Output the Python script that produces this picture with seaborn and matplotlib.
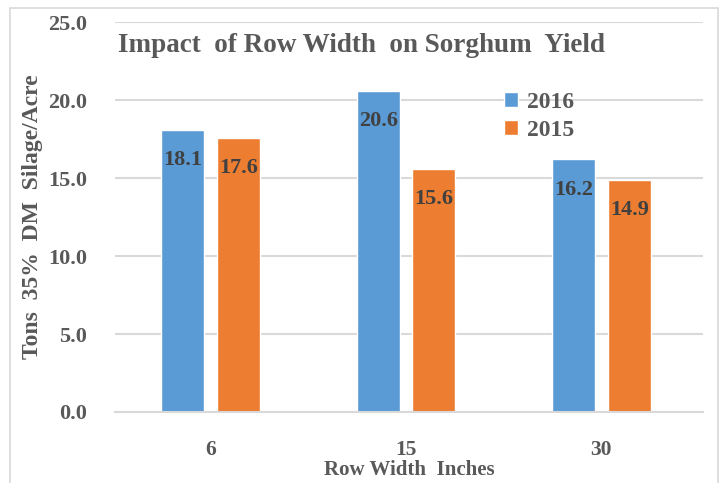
import matplotlib
matplotlib.use("Agg")
import matplotlib.pyplot as plt
import seaborn as sns
import pandas as pd
from matplotlib.patches import Rectangle

categories = ["6", "15", "30"]
years = ["2016", "2015"]
values_2016 = [18.1, 20.6, 16.2]
values_2015 = [17.6, 15.6, 14.9]
yticks = [0, 5, 10, 15, 20, 25]

df = pd.DataFrame({
    "width": categories * 2,
    "year": [years[0]] * 3 + [years[1]] * 3,
    "tons": values_2016 + values_2015,
})

sns.set_theme(style="white")
plt.rcParams["font.family"] = ["Liberation Serif", "DejaVu Serif"]
plt.rcParams["font.weight"] = "bold"

fig = plt.figure(figsize=(7.27, 4.83), dpi=100)
ax = fig.add_axes([0.158, 0.147, 0.809, 0.807])

palette = {"2016": "#5B9BD5", "2015": "#ED7D31"}
sns.barplot(data=df, x="width", y="tons", hue="year", order=categories,
            hue_order=years, palette=palette, width=0.57, gap=0.23,
            saturation=1, ax=ax, zorder=2, legend=True)

for cont in ax.containers:
    ax.bar_label(cont, fmt="%.1f", padding=-29, fontsize=16, fontweight="bold",
                 color="#404040")

ax.set_ylim(0, 25)
ax.set_xlim(-0.49, 2.52)
ax.set_yticks(yticks)
ax.set_yticklabels([f"{v:.1f}" for v in yticks])
ax.yaxis.grid(True, color="#d9d9d9", lw=1.5, zorder=0)
ax.set_axisbelow(True)
for s in ["top", "right", "left"]:
    ax.spines[s].set_visible(False)
ax.spines["bottom"].set_color("#d9d9d9")
ax.spines["bottom"].set_linewidth(1.5)
ax.tick_params(axis="y", length=0, labelsize=16, labelcolor="#595959", pad=20)
ax.tick_params(axis="x", length=0, labelsize=15.5, labelcolor="#595959", pad=20)
for lbl in ax.get_xticklabels() + ax.get_yticklabels():
    lbl.set_fontweight("bold")

ax.set_xlabel("Row Width  Inches", fontsize=15, fontweight="bold", color="#595959",
              labelpad=0)
ax.set_ylabel("Tons  35%  DM  Silage/Acre", fontsize=17, fontweight="bold",
              color="#595959", labelpad=4)

ax.text(0.005, 0.94, "Impact  of Row Width  on Sorghum  Yield", transform=ax.transAxes,
        fontsize=19.5, fontweight="bold", color="#595959", va="center", ha="left")

leg = ax.legend(loc="upper left", bbox_to_anchor=(0.625, 0.875), frameon=False,
                fontsize=17, handlelength=0.6, handleheight=0.6, handletextpad=0.4,
                labelspacing=0.3)
for t in leg.get_texts():
    t.set_color("#595959")
    t.set_fontweight("bold")

fig.patches.append(Rectangle((10 / 727, -0.05), 708 / 727, 1 - 8 / 483 + 0.05,
                             transform=fig.transFigure, fill=False,
                             edgecolor="#d9d9d9", lw=1.2))

fig.savefig("out.png", dpi=100)
